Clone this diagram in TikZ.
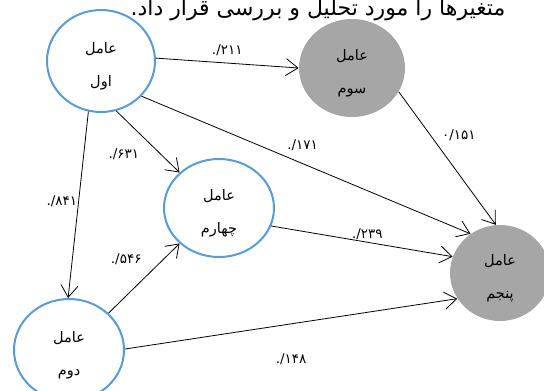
\documentclass[tikz,border=0pt]{standalone}
\usepackage{fontspec}
\usetikzlibrary{arrows.meta, shapes.geometric}
\newfontfamily\arabicfont[Script=Arabic]{DejaVu Sans}
\TeXXeTstate=1
\newcommand\rl[1]{\beginR #1\endR}
\newcommand\twolines[2]{\rule{0pt}{21pt}\rl{#1}\\\rl{#2}}
\definecolor{nodeblue}{RGB}{91,155,213}
\definecolor{nodegray}{RGB}{166,166,166}

\begin{document}
\begin{tikzpicture}[x = 1pt, y = -1pt, line width = 0.8pt,
    factor/.style = {ellipse, inner sep = 0pt, align = center, font = \arabicfont\fontsize{14.5}{33}\selectfont},
    open/.style = {factor, draw = nodeblue, line width = 2pt, fill = white},
    filled/.style = {factor, fill = nodegray},
    weight/.style = {inner sep = 1pt, font = \arabicfont\fontsize{13.5}{15}\selectfont},
    >={Straight Barb[length = 12pt, width = 17pt]}]
  \useasboundingbox (0,0) rectangle (544,391);
  \node (title) [anchor = base, font = \arabicfont\fontsize{22}{26}\selectfont] at (318,15) {\rl{متغیرها را مورد تحلیل و بررسی قرار داد.}};
  \node (first)  [open, minimum width = 108pt, minimum height = 102pt] at (101,61)  {\twolines{عامل}{اول}};
  \node (third)  [filled, minimum width = 106pt, minimum height = 98pt] at (352,68)  {\twolines{عامل}{سوم}};
  \node (fourth) [open, minimum width = 110pt, minimum height = 98pt] at (219,208) {\twolines{عامل}{چهارم}};
  \node (fifth)  [filled, minimum width = 100pt, minimum height = 96pt] at (500,273) {\twolines{عامل}{پنجم}};
  \node (second) [open, minimum width = 110pt, minimum height = 102pt] at (69,350)  {\twolines{عامل}{دوم}};
  % weights: digits first, as the run is set right to left
  \path[->] (first.3)     edge node[weight, pos = .5, above = 6pt]   (w211) {۲۱۱/.} (third.180)
            (first.-73)   edge node[weight, pos = .7, left = 20pt]   (w631) {۶۳۱/.} (fourth.138)
            (first.-104)  edge node[weight, pos = .48, left = 0pt]   (w841) {۸۴۱/.} (second.91)
            (first.-41)   edge node[weight, pos = .49, above = 11pt] (w171) {۱۷۱/.} (fifth.127)
            (third.-27)   edge node[weight, pos = .33, right = 10pt] (w151) {۰/۱۵۱} (fifth.95)
            (fourth.-19)  edge node[weight, pos = .53, above = 1pt]  (w239) {۲۳۹/.} (fifth.161)
            (second.43)   edge node[weight, pos = .78, left = 21pt]  (w546) {۵۴۶/.} (fourth.-138)
            (second.1)    edge node[weight, pos = .5, below = 28pt]  (w148) {۱۴۸/.} (fifth.-149);
\end{tikzpicture}
\end{document}
